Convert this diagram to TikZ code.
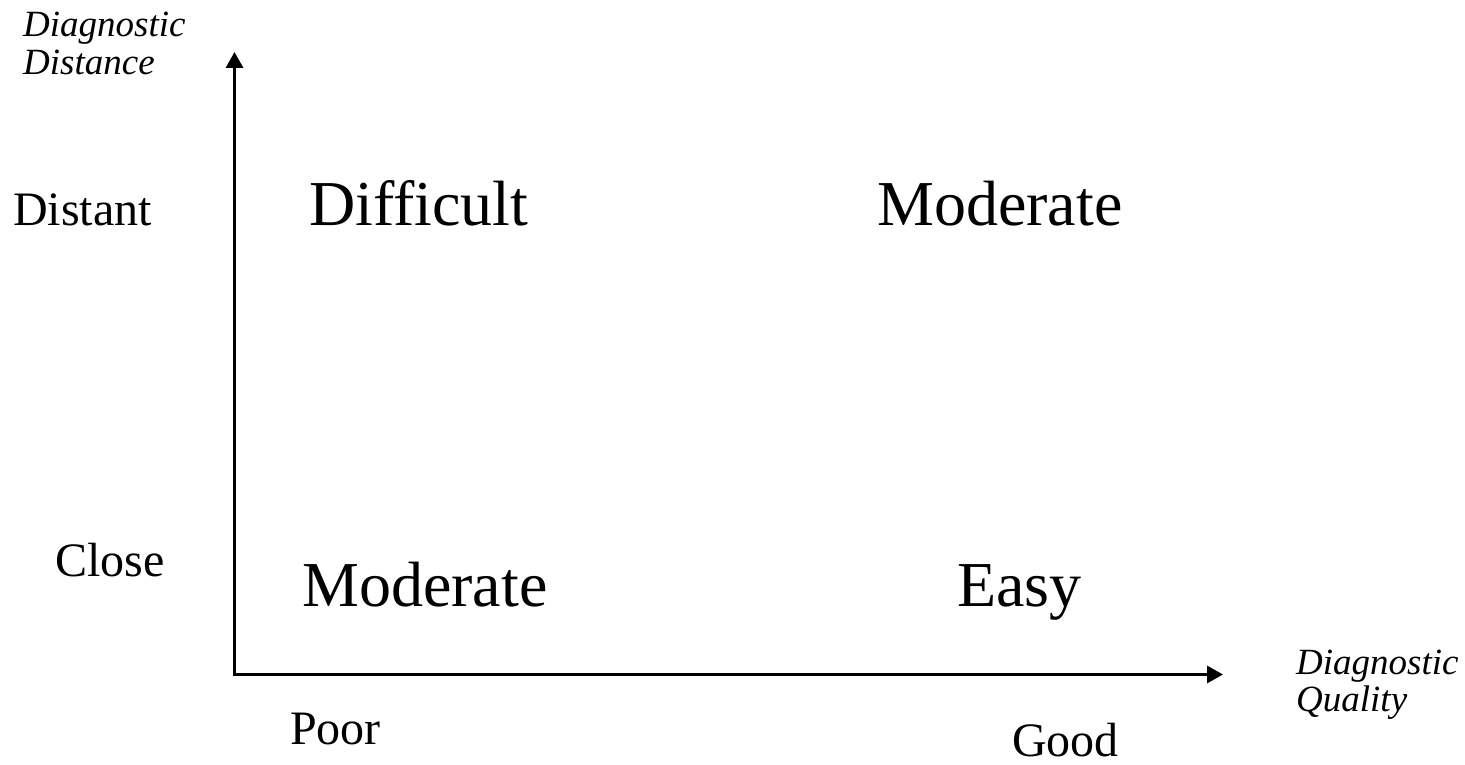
\documentclass[tikz,border=0pt]{standalone}
\usepackage{fontspec}
\setmainfont{Liberation Serif}
\usetikzlibrary{arrows.meta}
\begin{document}
\begin{tikzpicture}[x=1pt,y=1pt,
  lbl/.style={inner sep=0pt, anchor=base west},
  big/.style={lbl, font=\fontsize{64}{70}\selectfont},
  mid/.style={lbl, font=\fontsize{48}{54}\selectfont},
  ttl/.style={lbl, font=\fontsize{37}{40}\selectfont\itshape},
  axis/.style={line width=3.3pt, line join=miter,
    {Triangle[length=16pt,width=17pt]}-{Triangle[length=16pt,width=17pt]}}]
\useasboundingbox[fill=white] (0,0) rectangle (1465,765);
% axes
\coordinate (origin) at (234.5,90.5);
\coordinate (ytip) at (234.5,713);
\coordinate (xtip) at (1223,90.5);
\draw[axis] (ytip) -- (origin) -- (xtip);
% axis titles
\node[ttl] (dd1) at (23,728) {Diagnostic};
\node[ttl] (dd2) at (23,690) {Distance};
\node[ttl] (dq1) at (1296,90) {Diagnostic};
\node[ttl] (dq2) at (1296,53) {Quality};
% tick labels
\node[mid] (distant) at (13,539) {Distant};
\node[mid] (close) at (55,188) {Close};
\node[mid] (poor) at (290,20) {Poor};
\node[mid] (good) at (1012,8) {Good};
% quadrant labels
\node[big] (difficult) at (309,539) {Difficult};
\node[big] (modtop) at (877,539) {Moderate};
\node[big] (modbot) at (302,158) {Moderate};
\node[big] (easy) at (957,158) {Easy};
\end{tikzpicture}
\end{document}
